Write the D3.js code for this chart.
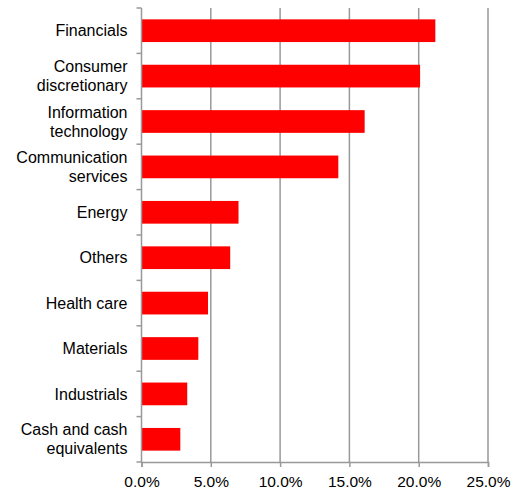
<!DOCTYPE html>
<meta charset="utf-8">
<script src="https://d3js.org/d3.v7.min.js"></script>
<style>
  body { margin: 0; background: #fff; }
  text { font-family: "Liberation Sans", Arial, sans-serif; fill: #000; }
</style>
<div id="chart"></div>
<script>

// sectors, top to bottom (each entry = lines of the label)
var sectors = [
  ["Financials"],
  ["Consumer", "discretionary"],
  ["Information", "technology"],
  ["Communication", "services"],
  ["Energy"],
  ["Others"],
  ["Health care"],
  ["Materials"],
  ["Industrials"],
  ["Cash and cash", "equivalents"]
];
// weight in %
var weights = [21.2, 20.1, 16.1, 14.2, 7.0, 6.4, 4.8, 4.1, 3.3, 2.8];
var xTicks = [0, 5, 10, 15, 20, 25];

var W = 516, H = 490;
var margin = {top: 8, right: 28, bottom: 28, left: 141.5},
    width = W - margin.left - margin.right,
    height = H - margin.top - margin.bottom;

var svg = d3.select("#chart")
  .append("svg")
    .attr("width", W)
    .attr("height", H)
  .append("g")
    .attr("transform", "translate(" + margin.left + "," + margin.top + ")");

var x = d3.scaleLinear()
  .domain([0, 25])
  .range([0, width]);

var y = d3.scaleBand()
  .domain(d3.range(sectors.length))
  .range([0, height])
  .paddingInner(0.5)
  .paddingOuter(0.25);

// vertical gridlines
svg.append("g")
  .selectAll("line")
  .data(xTicks.slice(1))
  .enter().append("line")
    .attr("x1", function(d) { return x(d); })
    .attr("x2", function(d) { return x(d); })
    .attr("y1", 0)
    .attr("y2", height)
    .attr("stroke", "#999")
    .attr("stroke-width", 1.5);

// bars
svg.append("g")
  .selectAll("rect")
  .data(weights)
  .enter().append("rect")
    .attr("x", x(0))
    .attr("y", function(d, i) { return y(i); })
    .attr("width", function(d) { return x(d) - x(0); })
    .attr("height", y.bandwidth())
    .attr("fill", "#ff0000");

// x axis
var xAxis = svg.append("g")
  .attr("transform", "translate(0," + height + ")")
  .call(d3.axisBottom(x)
    .tickValues(xTicks)
    .tickSize(5)
    .tickPadding(9)
    .tickFormat(function(d) { return d.toFixed(1) + "%"; }));
xAxis.select(".domain").attr("stroke", "#999").attr("stroke-width", 1.5);
xAxis.selectAll(".tick line").attr("stroke", "#999").attr("stroke-width", 1.5);
xAxis.selectAll(".tick text")
  .style("font-family", "'Liberation Sans', Arial, sans-serif")
  .style("font-size", "15.5px")
  .attr("fill", "#000");

// y axis line with ticks at band boundaries
var yBounds = d3.range(sectors.length + 1).map(function(i) { return i * height / sectors.length; });
svg.append("line")
  .attr("x1", 0).attr("x2", 0)
  .attr("y1", 0).attr("y2", height)
  .attr("stroke", "#999").attr("stroke-width", 1.5);
svg.append("g")
  .selectAll("line")
  .data(yBounds)
  .enter().append("line")
    .attr("x1", -5).attr("x2", 0)
    .attr("y1", function(d) { return d; })
    .attr("y2", function(d) { return d; })
    .attr("stroke", "#999")
    .attr("stroke-width", 1.5);

// category labels
var lineH = 19;
svg.append("g")
  .selectAll("text")
  .data(sectors)
  .enter().append("text")
    .attr("text-anchor", "end")
    .style("font-size", "16px")
    .each(function(lines, i) {
      var cy = y(i) + y.bandwidth() / 2;
      var t = d3.select(this);
      lines.forEach(function(s, k) {
        t.append("tspan")
          .attr("x", -14)
          .attr("y", cy + (k - (lines.length - 1) / 2) * lineH)
          .attr("dy", "0.35em")
          .text(s);
      });
    });

</script>
